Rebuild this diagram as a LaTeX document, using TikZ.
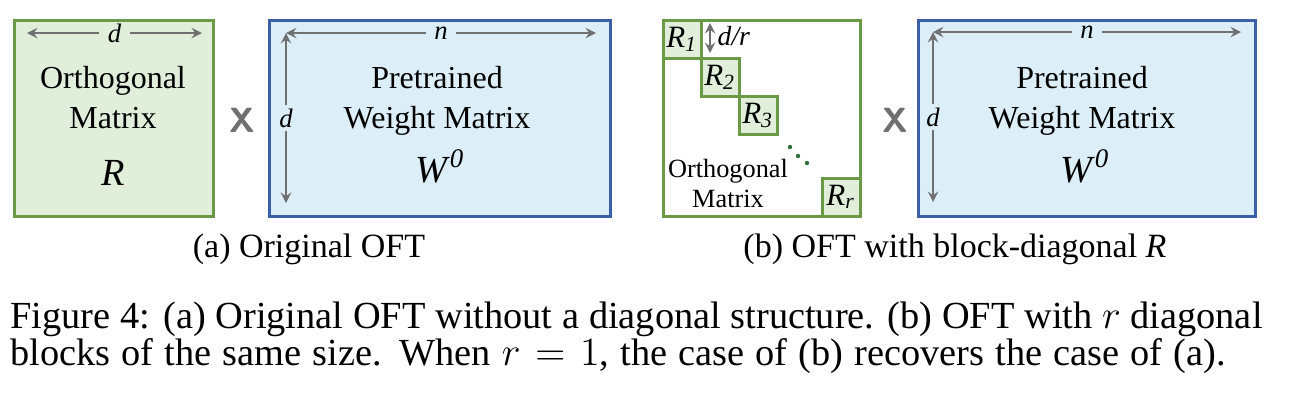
\documentclass[tikz,border=0pt]{standalone}
\usepackage[no-math]{fontspec}
\setmainfont{Liberation Serif}
\usetikzlibrary{arrows,calc,positioning}
\definecolor{gruenrand}{HTML}{6A9A45}
\definecolor{gruenfill}{HTML}{E0EEDA}
\definecolor{blaurand}{HTML}{3C60A8}
\definecolor{blaufill}{HTML}{DCEFF8}
\definecolor{pfeilgrau}{HTML}{707070}
\definecolor{punktgruen}{HTML}{2F6F3F}
\tikzset{
  rbox/.style={draw=gruenrand,fill=gruenfill,line width=0.9pt},
  leerbox/.style={draw=gruenrand,fill=white,line width=0.9pt},
  wbox/.style={draw=blaurand,fill=blaufill,line width=0.9pt},
  mass/.style={draw=pfeilgrau,line width=0.4pt,<->},
  masslbl/.style={inner xsep=2.6pt,inner ysep=0.4pt,font=\fontsize{8}{9}\selectfont},
  vmasslbl/.style={inner xsep=0.4pt,inner ysep=1pt,font=\fontsize{8}{9}\selectfont},
  txt/.style={anchor=base,inner sep=0pt,font=\fontsize{9.6}{12}\selectfont},
  ktxt/.style={anchor=base,inner sep=0pt,font=\fontsize{7.9}{9}\selectfont},
  gross/.style={anchor=base,inner sep=0pt,font=\fontsize{11.5}{13}\selectfont},
  blk/.style={inner sep=0pt,font=\fontsize{9.3}{10}\selectfont},
  mal/.style={inner sep=0pt,text=pfeilgrau,font=\sffamily\bfseries\fontsize{10.5}{12}\selectfont},
  unter/.style={anchor=base,inner sep=0pt,font=\fontsize{10.2}{12}\selectfont},
  capt/.style={anchor=base west,inner sep=0pt,font=\fontsize{11.5}{13}\selectfont}
}
\begin{document}
\begin{tikzpicture}[x=0.3pt,y=-0.3pt,>=stealth]
\useasboundingbox (0,0) rectangle (1298,406);
%(a) Original OFT
\draw[rbox] (14,20) rectangle (213,216);
\draw[mass] (27,33) -- node[masslbl,fill=gruenfill] (dA) {\textit{d}} (202,33);
\node[txt] (orthA) at (113,88) {Orthogonal};
\node[txt] (matA) at (113,128) {Matrix};
\node[gross] (RA) at (113,185) {\textit{R}};
\node[mal] (malA) at (242,120) {X};
\draw[wbox] (269,20) rectangle (610,216);
\draw[mass] (286,33) -- node[masslbl,fill=blaufill] (nA) {\textit{n}} (596,33);
\draw[mass] (286,33) -- node[vmasslbl,fill=blaufill] (dWA) {\textit{d}} (286,203);
\node[txt] (preA) at (437,88) {Pretrained};
\node[txt] (weiA) at (437,128) {Weight Matrix};
\node[gross] (WA) at (440,182) {\textit{W}\textsuperscript{\textit{0}}};
\node[unter] (capA) at (309,257) {(a) Original OFT};
%(b) blockdiagonal
\draw[leerbox] (663,20) rectangle (860,216);
\foreach \i in {1,2,3}{
  \draw[rbox] ({663+38*(\i-1)},{20+38*(\i-1)}) rectangle ++(38,38);
  \node[blk] (R\i) at ({682+38*(\i-1)},{39+38*(\i-1)}) {\textit{R}\textsubscript{\textit{\i}}};
}
\draw[rbox] (822,178) rectangle (860,216);
\node[blk] (Rr) at (841,197) {\textit{R}\textsubscript{\textit{r}}};
\draw[mass] (710,23) -- (710,53);
\node[ktxt,anchor=base west] (dr) at (717,45) {\fontsize{8.3}{9}\selectfont\textit{d/r}};
\foreach \px/\py in {790/147,798/156,807/163}
  \fill[punktgruen] (\px,\py) circle (2.2);
\node[ktxt] (orthB) at (728,177) {Orthogonal};
\node[ktxt] (matB) at (728,207) {Matrix};
\node[mal] (malB) at (895,120) {X};
\draw[wbox] (918,20) rectangle (1255,216);
\draw[mass] (933,32) -- node[masslbl,fill=blaufill] (nB) {\textit{n}} (1241,32);
\draw[mass] (933,32) -- node[vmasslbl,fill=blaufill] (dWB) {\textit{d}} (933,202);
\node[txt] (preB) at (1082,88) {Pretrained};
\node[txt] (weiB) at (1082,128) {Weight Matrix};
\node[gross] (WB) at (1085,182) {\textit{W}\textsuperscript{\textit{0}}};
\node[unter] (capB) at (955,257) {(b) OFT with block-diagonal \textit{R}};
%Bildunterschrift
\node[capt] (cap1) at (10,328) {\hbox to 375.6pt{Figure 4: (a) Original OFT without a diagonal structure. (b) OFT with $r$ diagonal}};
\node[capt] (cap2) at (10,365) {\hbox to 364.5pt{blocks of the same size. When $r = 1$, the case of (b) recovers the case of (a).}};
\end{tikzpicture}
\end{document}
